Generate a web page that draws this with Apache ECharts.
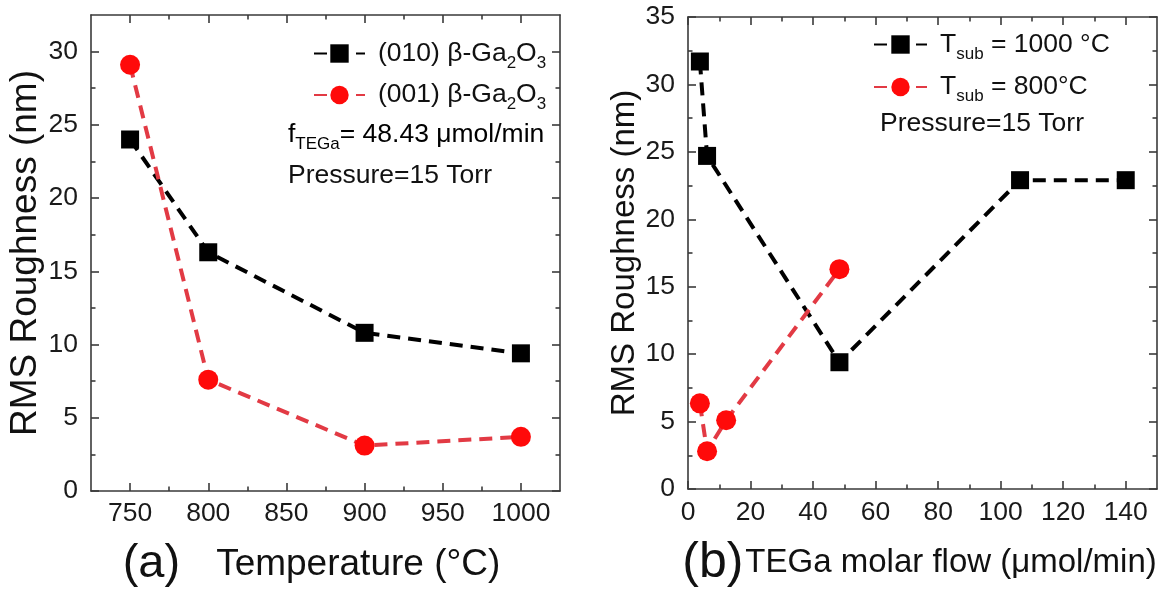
<!DOCTYPE html>
<html>
<head>
<meta charset="utf-8">
<script src="https://cdn.jsdelivr.net/npm/echarts@6/dist/echarts.min.js"></script>
<style>
  html, body { margin: 0; padding: 0; background: #fff; }
  #chart { width: 1167px; height: 597px; }
</style>
</head>
<body>
<div id="chart"></div>
<script>
// Panel (a): RMS roughness versus growth temperature
const tempC = [750, 800, 900, 1000];
const rough010 = [24.0, 16.3, 10.8, 9.4];
const rough001 = [29.1, 7.6, 3.1, 3.7];

// Panel (b): RMS roughness versus TEGa molar flow
const flow1000 = [3.8, 6.1, 48.43, 106.2, 140];
const rough1000 = [31.7, 24.7, 9.4, 22.9, 22.9];
const flow800 = [3.8, 6.1, 12.2, 48.43];
const rough800 = [6.35, 2.8, 5.1, 16.3];

// Axis ranges and tick positions
const tempRange = [725, 1025];
const tempMajor = [750, 800, 850, 900, 950, 1000];
const tempMinor = [775, 825, 875, 925, 975];
const roughRangeA = [0, 32.5];
const roughMajorA = [0, 5, 10, 15, 20, 25, 30];
const roughMinorA = [2.5, 7.5, 12.5, 17.5, 22.5, 27.5];
const flowRange = [0, 150];
const flowMajor = [0, 20, 40, 60, 80, 100, 120, 140];
const flowMinor = [10, 30, 50, 70, 90, 110, 130];
const roughRangeB = [0, 35];
const roughMajorB = [0, 5, 10, 15, 20, 25, 30, 35];
const roughMinorB = [2.5, 7.5, 12.5, 17.5, 22.5, 27.5, 32.5];

const FONT = 'Liberation Sans';
const FRAME = '#3a3a3a';
const RED_LINE = '#e23a44';
const RED_MARK = '#ff0a0a';
const NOTE_SIZE = 26.5;

const subRich = (size, sub, drop) => ({
  n: { fontFamily: FONT, fontSize: size, color: '#111' },
  f: { fontFamily: FONT, fontSize: size, color: '#111', padding: [0, 0, 0, 8] },
  s: { fontFamily: FONT, fontSize: sub, color: '#111', padding: [drop, 0, 0, 0] }
});

const legendLabels = {
  '(010) β-Ga2O3': '{f|(010) β-Ga}{s|2}{n|O}{s|3}',
  '(001) β-Ga2O3': '{f|(001) β-Ga}{s|2}{n|O}{s|3}',
  'Tsub = 1000 °C': '{f|T}{s|sub}{n| = 1000 °C}',
  'Tsub = 800°C': '{f|T}{s|sub}{n| = 800°C}'
};

// One value axis: either carrying the frame line, major ticks and labels, or only minor ticks
function makeAxis(dim, grid, pos, range, ticks, opts) {
  const o = opts || {};
  return {
    type: 'value',
    gridIndex: grid,
    position: pos,
    min: range[0],
    max: range[1],
    axisLine: { show: !!o.line, onZero: false, lineStyle: { color: FRAME, width: 1.6 } },
    axisTick: {
      show: true, inside: true, length: o.minor ? 4.5 : 8,
      customValues: ticks,
      lineStyle: { color: FRAME, width: 1.6 }
    },
    axisLabel: o.labels ? {
      show: true, customValues: ticks,
      formatter: v => String(v),
      fontFamily: FONT, fontSize: 26.5, color: '#1a1a1a',
      margin: o.margin
    } : { show: false },
    splitLine: { show: false },
    name: o.name || '',
    nameLocation: 'middle',
    nameGap: o.nameGap || 0,
    nameRotate: o.nameRotate,
    nameTextStyle: o.nameStyle
  };
}

const xTitleRichA = {
  p: { fontFamily: FONT, fontSize: 47, color: '#111' },
  t: { fontFamily: FONT, fontSize: 37, color: '#111', padding: [0, 28, 0, 36] }
};
const xTitleRichB = {
  p: { fontFamily: FONT, fontSize: 50, color: '#111' },
  t: { fontFamily: FONT, fontSize: 33, color: '#111', padding: [0, 6, 0, 2] }
};

const xAxes = [
  makeAxis('x', 0, 'bottom', tempRange, tempMajor, {
    line: true, labels: true, margin: 9,
    name: '{p|(a)}{t|Temperature (°C)}', nameGap: 50,
    nameStyle: { rich: xTitleRichA }
  }),
  makeAxis('x', 0, 'bottom', tempRange, tempMinor, { minor: true }),
  makeAxis('x', 0, 'top', tempRange, tempMajor, { line: true }),
  makeAxis('x', 0, 'top', tempRange, tempMinor, { minor: true }),
  makeAxis('x', 1, 'bottom', flowRange, flowMajor, {
    line: true, labels: true, margin: 10,
    name: '{p|(b)}{t|TEGa molar flow (μmol/min)}', nameGap: 49,
    nameStyle: { rich: xTitleRichB }
  }),
  makeAxis('x', 1, 'bottom', flowRange, flowMinor, { minor: true }),
  makeAxis('x', 1, 'top', flowRange, flowMajor, { line: true }),
  makeAxis('x', 1, 'top', flowRange, flowMinor, { minor: true })
];

const yAxes = [
  makeAxis('y', 0, 'left', roughRangeA, roughMajorA, {
    line: true, labels: true, margin: 13,
    name: 'RMS Roughness (nm)', nameGap: 40,
    nameStyle: { fontFamily: FONT, fontSize: 37, color: '#111' }
  }),
  makeAxis('y', 0, 'left', roughRangeA, roughMinorA, { minor: true }),
  makeAxis('y', 0, 'right', roughRangeA, roughMajorA, { line: true }),
  makeAxis('y', 0, 'right', roughRangeA, roughMinorA, { minor: true }),
  makeAxis('y', 1, 'left', roughRangeB, roughMajorB, {
    line: true, labels: true, margin: 13,
    name: 'RMS Roughness (nm)', nameGap: 45,
    nameStyle: { fontFamily: FONT, fontSize: 33, color: '#111' }
  }),
  makeAxis('y', 1, 'left', roughRangeB, roughMinorB, { minor: true }),
  makeAxis('y', 1, 'right', roughRangeB, roughMajorB, { line: true }),
  makeAxis('y', 1, 'right', roughRangeB, roughMinorB, { minor: true })
];

const zipXY = (xs, ys) => xs.map((x, i) => [x, ys[i]]);

function lineSeries(name, xi, yi, data, color, lineColor, symbol, size) {
  return {
    name: name, type: 'line', xAxisIndex: xi, yAxisIndex: yi,
    data: data, symbol: symbol, symbolSize: size,
    itemStyle: { color: color },
    lineStyle: { color: lineColor, width: 4, type: [13, 8] },
    z: 3, animation: false
  };
}

const option = {
  backgroundColor: '#fff',
  animation: false,
  grid: [
    { left: 91, top: 15, right: 607, bottom: 106 },
    { left: 688, top: 17, right: 10, bottom: 108 }
  ],
  xAxis: xAxes,
  yAxis: yAxes,
  legend: [
    {
      data: ['(010) β-Ga2O3', '(001) β-Ga2O3'],
      orient: 'vertical', left: 308, top: 35,
      itemWidth: 51, itemHeight: 23, itemGap: 10,
      formatter: n => legendLabels[n],
      textStyle: { rich: subRich(NOTE_SIZE, 17, 19) },
      selectedMode: false
    },
    {
      data: ['Tsub = 1000 °C', 'Tsub = 800°C'],
      orient: 'vertical', left: 868, top: 26,
      itemWidth: 53, itemHeight: 23, itemGap: 11,
      formatter: n => legendLabels[n],
      textStyle: { rich: subRich(NOTE_SIZE, 17, 19) },
      selectedMode: false
    }
  ],
  graphic: [
    {
      type: 'text', left: 288, top: 121,
      style: { text: '{n|f}{s|TEGa}{n|= 48.43 μmol/min}', rich: subRich(NOTE_SIZE, 17, 19) }
    },
    {
      type: 'text', left: 288, top: 162,
      style: { text: 'Pressure=15 Torr', fontFamily: FONT, fontSize: NOTE_SIZE, fill: '#111' }
    },
    {
      type: 'text', left: 880, top: 110,
      style: { text: 'Pressure=15 Torr', fontFamily: FONT, fontSize: NOTE_SIZE, fill: '#111' }
    }
  ],
  series: [
    lineSeries('(010) β-Ga2O3', 0, 0, zipXY(tempC, rough010), '#000', '#000', 'rect', 18),
    lineSeries('(001) β-Ga2O3', 0, 0, zipXY(tempC, rough001), RED_MARK, RED_LINE, 'circle', 20),
    lineSeries('Tsub = 1000 °C', 4, 4, zipXY(flow1000, rough1000), '#000', '#000', 'rect', 18),
    lineSeries('Tsub = 800°C', 4, 4, zipXY(flow800, rough800), RED_MARK, RED_LINE, 'circle', 20)
  ]
};

const chart = echarts.init(document.getElementById('chart'), null, { renderer: 'canvas' });
chart.setOption(option);
</script>
</body>
</html>
